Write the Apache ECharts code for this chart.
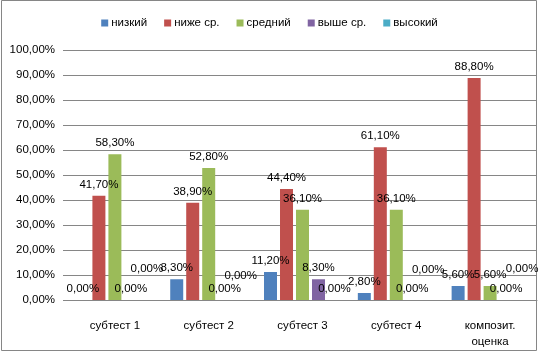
<!DOCTYPE html>
<html lang="ru">

<head>
    <meta charset="UTF-8">
    <title>Субтесты</title>
    <style>
        html, body { margin: 0; padding: 0; background: #fff; }
        #box { width: 539px; height: 354px; }
    </style>
    <script src="https://cdn.jsdelivr.net/npm/echarts@6/dist/echarts.min.js"></script>
</head>

<body>
    <div id="box"></div>
    <script>
        // данные
        const categories = ['субтест 1', 'субтест 2', 'субтест 3', 'субтест 4', 'композит.\nоценка']
        const seriesNames = ['низкий', 'ниже ср.', 'средний', 'выше ср.', 'высокий']
        const nizkiy = [0, 8.3, 11.2, 2.8, 5.6]
        const nizheSr = [41.7, 38.9, 44.4, 61.1, 88.8]
        const sredniy = [58.3, 52.8, 36.1, 36.1, 5.6]
        const vysheSr = [0, 0, 8.3, 0, 0]
        const vysokiy = [0, 0, 0, 0, 0]
        const yTicks = [0, 10, 20, 30, 40, 50, 60, 70, 80, 90, 100]

        const colors = ['#4F81BD', '#C0504D', '#9BBB59', '#8064A2', '#4BACC6']
        // подписи "высокий" в оригинале сдвинуты вверх вручную
        const liftVysokiy = [20, 13, 0, 19, 20]

        const fmt = v => v.toFixed(2).replace('.', ',') + '%'
        const font = '"Liberation Sans", Arial, sans-serif'

        const myChart = echarts.init(document.querySelector('#box'))

        const allData = [nizkiy, nizheSr, sredniy, vysheSr, vysokiy]
        const series = allData.map(function (arr, i) {
            return {
                name: seriesNames[i],
                type: 'bar',
                barWidth: 13,
                barGap: '23%',
                itemStyle: { color: colors[i] },
                label: {
                    show: true,
                    position: 'top',
                    distance: 5,
                    color: '#000',
                    fontFamily: font,
                    fontSize: 11.5,
                    formatter: p => fmt(p.value)
                },
                data: arr.map(function (v, j) {
                    if (i === 4 && liftVysokiy[j]) {
                        return { value: v, label: { offset: [0, -liftVysokiy[j]] } }
                    }
                    return v
                })
            }
        })

        const option = {
            animation: false,
            color: colors,
            legend: {
                top: 12,
                left: 'center',
                itemWidth: 7,
                itemHeight: 7,
                itemGap: 17,
                icon: 'rect',
                textStyle: { fontFamily: font, fontSize: 11.5, color: '#000', padding: [0, 0, 0, -2] },
                data: seriesNames
            },
            grid: { left: 68, right: 2, top: 50, bottom: 54 },
            xAxis: {
                type: 'category',
                data: categories,
                axisLine: { lineStyle: { color: '#868686' } },
                axisTick: { show: false },
                axisLabel: {
                    color: '#000',
                    fontFamily: font,
                    fontSize: 11.5,
                    margin: 18,
                    lineHeight: 16
                }
            },
            yAxis: {
                type: 'value',
                min: yTicks[0],
                max: yTicks[yTicks.length - 1],
                interval: 10,
                axisLine: { show: false },
                axisTick: { show: true, length: 5, lineStyle: { color: '#868686' } },
                splitLine: { lineStyle: { color: '#868686' } },
                axisLabel: {
                    color: '#000',
                    fontFamily: font,
                    fontSize: 11.5,
                    margin: 13,
                    formatter: fmt
                }
            },
            graphic: [{
                type: 'rect',
                shape: { x: 1.5, y: 0.5, width: 535, height: 350 },
                style: { fill: null, stroke: '#868686', lineWidth: 1 },
                silent: true
            }],
            series: series
        }

        myChart.setOption(option)
    </script>
</body>

</html>
